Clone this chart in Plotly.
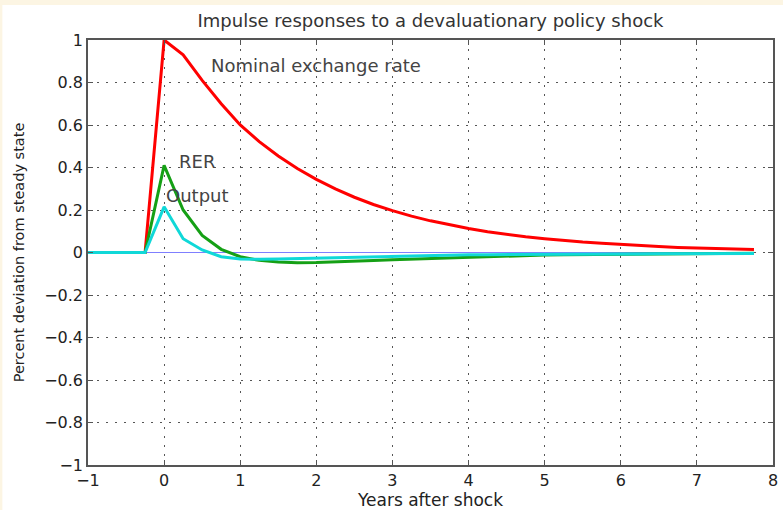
import plotly.graph_objects as go

years = [-1, -0.75, -0.5, -0.25, 0, 0.25, 0.5, 0.75, 1, 1.25, 1.5, 1.75, 2, 2.25, 2.5, 2.75,
         3, 3.25, 3.5, 3.75, 4, 4.25, 4.5, 4.75, 5, 5.25, 5.5, 5.75, 6, 6.25, 6.5, 6.75,
         7, 7.25, 7.5, 7.75]
nominal = [0, 0, 0, 0, 1.0, 0.93, 0.81, 0.70, 0.60, 0.522, 0.454, 0.395, 0.344, 0.299, 0.26,
           0.226, 0.197, 0.171, 0.149, 0.13, 0.113, 0.098, 0.085, 0.074, 0.065, 0.056, 0.049,
           0.043, 0.037, 0.032, 0.028, 0.024, 0.021, 0.018, 0.016, 0.014]
rer = [0, 0, 0, 0, 0.41, 0.20, 0.08, 0.015, -0.02, -0.037, -0.045, -0.048, -0.047, -0.045,
       -0.042, -0.038, -0.034, -0.031, -0.027, -0.024, -0.021, -0.019, -0.016, -0.014,
       -0.012, -0.011, -0.010, -0.009, -0.008, -0.007, -0.007, -0.006, -0.006, -0.005,
       -0.005, -0.004]
output = [0, 0, 0, 0, 0.215, 0.065, 0.012, -0.02, -0.03, -0.032, -0.03, -0.028, -0.025,
          -0.022, -0.02, -0.018, -0.016, -0.014, -0.013, -0.012, -0.011, -0.010, -0.010,
          -0.009, -0.009, -0.008, -0.008, -0.007, -0.007, -0.007, -0.006, -0.006, -0.006,
          -0.005, -0.005, -0.005]
zero_line = [0] * len(years)

x_ticks = [-1, 0, 1, 2, 3, 4, 5, 6, 7, 8]
y_ticks = [-1, -0.8, -0.6, -0.4, -0.2, 0, 0.2, 0.4, 0.6, 0.8, 1]

title_text = "Impulse responses to a devaluationary policy shock"
x_title = "Years after shock"
y_title = "Percent deviation from steady state"
labels = ["Nominal exchange rate", "RER", "Output"]
label_x = [0.59, 0.17, 0.0]
label_y = [0.88, 0.43, 0.27]

FONT = "DejaVu Sans"
TXT = "#333333"

fig = go.Figure()
fig.add_trace(go.Scatter(x=years, y=zero_line, mode="lines",
                         line=dict(color="#7f7fff", width=1.2), hoverinfo="skip"))
fig.add_trace(go.Scatter(x=years, y=nominal, mode="lines",
                         line=dict(color="#ff0000", width=3)))
fig.add_trace(go.Scatter(x=years, y=rer, mode="lines",
                         line=dict(color="#15a015", width=3)))
fig.add_trace(go.Scatter(x=years, y=output, mode="lines",
                         line=dict(color="#10d8d8", width=3)))

for t, xx, yy in zip(labels, label_x, label_y):
    fig.add_annotation(x=xx, y=yy, text=t, showarrow=False, xanchor="left",
                       yanchor="middle", font=dict(family=FONT, size=18, color="#444444"))

fig.add_shape(type="rect", xref="paper", yref="paper", x0=-0.125, x1=1.02,
              y0=-0.12, y1=1.0824, fillcolor="white", line=dict(width=0), layer="below")

axis_common = dict(showline=True, linecolor="#555555", linewidth=1.5, mirror="ticks",
                   ticks="inside", ticklen=5, tickcolor="#555555",
                   showgrid=True, gridcolor="#555555", griddash="2px,7px", gridwidth=1,
                   zeroline=False,
                   tickfont=dict(family=FONT, size=16, color="#222222"))

fig.update_xaxes(range=[-1, 8], tickvals=x_ticks,
                 title=dict(text=x_title, font=dict(family=FONT, size=17, color="#222222"),
                            standoff=0),
                 **axis_common)
fig.update_yaxes(range=[-1, 1], tickvals=y_ticks,
                 title=dict(text=y_title, font=dict(family=FONT, size=14.5, color="#222222"),
                            standoff=16),
                 **axis_common)

fig.update_layout(
    width=783, height=510,
    margin=dict(l=88, r=5, t=40, b=45),
    paper_bgcolor="#fcf5e3", plot_bgcolor="white",
    showlegend=False,
    title=dict(text=title_text, xref="paper", x=0.5, xanchor="center", y=0.96,
               yanchor="middle", font=dict(family=FONT, size=18, color=TXT)),
)

fig.write_html("out.html")
